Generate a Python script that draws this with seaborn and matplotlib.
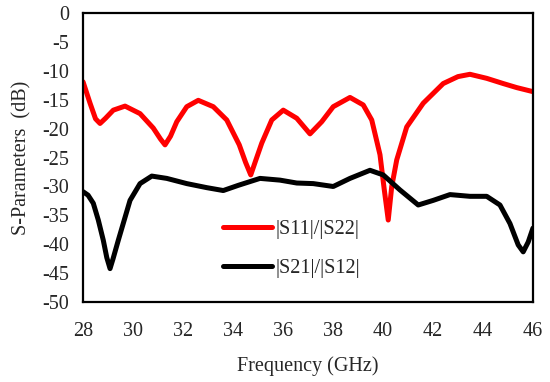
import matplotlib

matplotlib.use('Agg')
import matplotlib.pyplot as plt
import seaborn as sns

# |S11|/|S22|
freq_s11 = [28.0, 28.28, 28.5, 28.68, 28.9, 29.21, 29.68, 30.28, 30.81, 31.1, 31.28,
            31.5, 31.75, 32.15, 32.61, 33.21, 33.75, 34.25, 34.5, 34.71, 34.9,
            35.15, 35.55, 36.01, 36.55, 37.08, 37.55, 38.01, 38.68, 39.21, 39.55,
            39.88, 40.05, 40.21, 40.35, 40.55, 40.95, 41.61, 42.41, 43.0, 43.48,
            44.15, 44.81, 45.35, 46.0]
s11 = [-11.9, -15.6, -18.3, -19.1, -18.2, -16.8, -16.1, -17.4, -19.9, -21.8, -22.8,
       -21.3, -18.8, -16.2, -15.1, -16.2, -18.5, -22.8, -25.8, -28.0, -25.6,
       -22.5, -18.5, -16.8, -18.2, -20.9, -18.8, -16.2, -14.6, -15.9, -18.5,
       -24.5, -30.5, -35.8, -30.0, -25.4, -19.7, -15.6, -12.2, -11.0, -10.6,
       -11.3, -12.2, -12.9, -13.6]

# |S21|/|S12|
freq_s21 = [28.0, 28.2, 28.41, 28.61, 28.81, 28.95, 29.08, 29.2, 29.41, 29.88,
            30.28, 30.75, 31.35, 32.15, 32.95, 33.61, 34.21, 35.08, 35.88, 36.55,
            37.21, 38.01, 38.68, 39.48, 40.01, 40.68, 41.41, 42.01, 42.68, 43.48,
            44.15, 44.68, 45.08, 45.41, 45.61, 45.81, 46.0]
s21 = [-30.9, -31.5, -32.9, -35.8, -39.3, -42.3, -44.2, -42.5, -39.3, -32.4,
       -29.5, -28.2, -28.6, -29.5, -30.2, -30.7, -29.8, -28.6, -28.9, -29.4,
       -29.5, -30.0, -28.6, -27.2, -28.0, -30.6, -33.2, -32.4, -31.4, -31.7,
       -31.7, -33.2, -36.4, -40.1, -41.3, -39.6, -37.2]

labels = ['|S11|/|S22|', '|S21|/|S12|']
xticks = list(range(28, 47, 2))
yticks = list(range(-50, 1, 5))

sns.set_style("white")
plt.rcParams['font.family'] = ['Liberation Serif', 'DejaVu Serif']
plt.rcParams['axes.unicode_minus'] = False
fs = 14.5

fig = plt.figure(figsize=(5.5, 3.82), dpi=100)
ax = fig.add_axes([0.151, 0.209, 0.818, 0.757])

sns.lineplot(x=freq_s11, y=s11, color='#ff0000', linewidth=3.6, label=labels[0], ax=ax)
sns.lineplot(x=freq_s21, y=s21, color='black', linewidth=3.6, label=labels[1], ax=ax)

ax.set_xlim(28, 46)
ax.set_ylim(-50, 0)
ax.set_xticks(xticks)
ax.set_yticks(yticks)
ax.tick_params(axis='x', length=0, labelsize=fs, pad=14)
ax.tick_params(axis='y', length=0, labelsize=fs, pad=10)
for s in ax.spines.values():
    s.set_linewidth(1.6)
    s.set_color('black')

ax.set_xlabel("Frequency (GHz)", fontsize=fs, labelpad=11)
ax.set_ylabel("S-Parameters  (dB)", fontsize=fs, labelpad=8)

ax.legend(loc='upper left', bbox_to_anchor=(0.311, 0.285), frameon=False,
          borderpad=0, borderaxespad=0,
          handlelength=2.45, handletextpad=0.15, labelspacing=1.0, fontsize=fs)

fig.savefig("out.png", dpi=100)
